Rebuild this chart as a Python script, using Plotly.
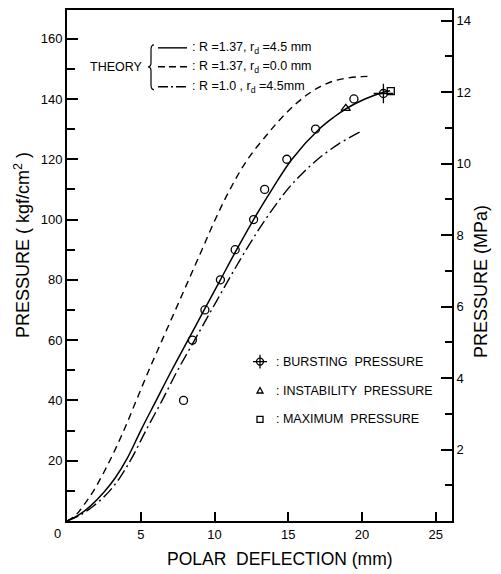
import plotly.graph_objects as go

# ---------------- data ----------------
# theory R=1.37, rd=4.5 mm (solid)
solid_x = [0, 0.8, 1.6, 2.5, 3.3, 4.05, 5.05, 6.05, 7.1, 8.2, 9.3, 10.4, 11.5, 12.65, 13.9, 15.25, 17.1, 18.1, 19.0, 20.2, 21.3, 21.9]
solid_y = [0, 2, 5, 9.5, 14.5, 20.5, 30.5, 40, 50, 60, 70, 80, 90, 100, 110, 120, 130, 134, 137, 140, 142, 142.7]
# theory R=1.37, rd=0.0 mm (dashed)
dash_x = [0, 0.6, 1.1, 1.8, 2.9, 3.85, 4.7, 5.55, 6.45, 7.35, 8.25, 9.15, 10.05, 11.05, 12.25, 13.7, 14.6, 15.5, 16.4, 17.2, 18.1, 19.1, 20.0, 20.6]
dash_y = [0, 2, 5, 10, 20, 30, 40, 50, 60, 70, 80, 90, 100, 110, 120, 129, 134, 138.3, 141.8, 144.2, 146.0, 147.0, 147.4, 147.5]
# theory R=1.0, rd=4.5 mm (dash-dot)
dd_x = [0, 0.9, 1.8, 2.8, 3.6, 4.35, 5.4, 6.45, 7.5, 8.65, 9.8, 10.95, 12.15, 13.45, 14.95, 15.9, 17.0, 18.4, 20.0]
dd_y = [0, 2, 5, 9.5, 14.5, 20.5, 30.5, 40, 50, 60, 70, 80, 90, 100, 110, 115, 120, 125, 129.4]

# experimental (open circles)
exp_x = [7.9, 8.5, 9.35, 10.4, 11.4, 12.65, 13.4, 14.9, 16.85, 19.45]
exp_y = [40, 60, 70, 80, 90, 100, 110, 120, 130, 140]

burst_x = [21.45]
burst_y = [141.8]
inst_x = [18.9]
inst_y = [136.9]
max_x = [21.95]
max_y = [142.6]

x_ticks = [0, 5, 10, 15, 20, 25]
y_ticks = [20, 40, 60, 80, 100, 120, 140, 160]
y2_ticks = [2, 4, 6, 8, 10, 12, 14]

theory_labels = [": R =1.37, r<sub>d</sub> =4.5 mm",
                 ": R =1.37, r<sub>d</sub> =0.0 mm",
                 ": R =1.0 , r<sub>d</sub> =4.5mm"]
marker_labels = [": BURSTING  PRESSURE", ": INSTABILITY  PRESSURE", ": MAXIMUM  PRESSURE"]

# ---------------- layout geometry ----------------
W, H = 501, 574
L, R, T, B = 67, 49, 8, 53
PW = W - L - R
PH = H - T - B


def px(x):
    return (x - L) / PW


def py(y):
    return (H - B - y) / PH


FONT = "Liberation Sans, Arial, sans-serif"

fig = go.Figure()

fig.add_trace(go.Scatter(x=dash_x, y=dash_y, mode="lines", line=dict(color="black", width=1.4, dash="7px,5px", shape="spline", smoothing=1.0), showlegend=False))
fig.add_trace(go.Scatter(x=dd_x, y=dd_y, mode="lines", line=dict(color="black", width=1.4, dash="12px,4px,2px,4px", shape="spline", smoothing=1.0), showlegend=False))
fig.add_trace(go.Scatter(x=solid_x, y=solid_y, mode="lines", line=dict(color="black", width=1.5, shape="spline", smoothing=1.0), showlegend=False))

fig.add_trace(go.Scatter(x=exp_x, y=exp_y, mode="markers",
                         marker=dict(symbol="circle-open", size=8, color="black", line=dict(width=1.3, color="black")),
                         showlegend=False))
fig.add_trace(go.Scatter(x=burst_x, y=burst_y, mode="markers",
                         marker=dict(symbol="circle-open", size=8, color="black", line=dict(width=1.3, color="black")),
                         showlegend=False))
fig.add_trace(go.Scatter(x=burst_x, y=burst_y, mode="markers",
                         marker=dict(symbol="cross-thin-open", size=14, color="black", line=dict(width=1.3, color="black")),
                         showlegend=False))
fig.add_trace(go.Scatter(x=inst_x, y=inst_y, mode="markers",
                         marker=dict(symbol="triangle-up-open", size=8, color="black", line=dict(width=1.3, color="black")),
                         showlegend=False))
fig.add_trace(go.Scatter(x=max_x, y=max_y, mode="markers",
                         marker=dict(symbol="square-open", size=7, color="black", line=dict(width=1.3, color="black")),
                         showlegend=False))
# secondary (MPa) axis anchor trace
fig.add_trace(go.Scatter(x=[], y=[], yaxis="y2", showlegend=False, hoverinfo="skip"))

shapes = []
annotations = []

# ----- theory legend -----
annotations.append(dict(x=px(116), y=py(65), xref="paper", yref="paper", text="THEORY",
                        showarrow=False, font=dict(family=FONT, size=12.5, color="black"),
                        xanchor="center", yanchor="middle"))
# brace
bx = 151
brace = (f"M {px(bx+3)} {py(43)} Q {px(bx)} {py(43)} {px(bx)} {py(48)} "
         f"L {px(bx)} {py(61)} Q {px(bx)} {py(65)} {px(bx-3)} {py(65)} "
         f"Q {px(bx)} {py(65)} {px(bx)} {py(69)} L {px(bx)} {py(83)} "
         f"Q {px(bx)} {py(88)} {px(bx+3)} {py(88)}")
shapes.append(dict(type="path", path=brace, xref="paper", yref="paper", line=dict(color="black", width=1.2)))
leg_y = [46, 65, 85]
leg_dash = ["solid", "7px,4px", "10px,3px,2px,3px"]
for yy, dsh, lab in zip(leg_y, leg_dash, theory_labels):
    shapes.append(dict(type="line", xref="paper", yref="paper", x0=px(158), x1=px(187), y0=py(yy), y1=py(yy),
                       line=dict(color="black", width=1.4, dash=dsh)))
    annotations.append(dict(x=px(190), y=py(yy), xref="paper", yref="paper", text=lab, showarrow=False,
                            font=dict(family=FONT, size=12.5, color="black"), xanchor="left", yanchor="middle"))

# ----- marker legend -----
mk_y = [361, 390, 419]
cx = 260
# bursting: circle with spikes
shapes.append(dict(type="circle", xref="paper", yref="paper", x0=px(cx-3.5), x1=px(cx+3.5), y0=py(mk_y[0]-3.5), y1=py(mk_y[0]+3.5),
                   line=dict(color="black", width=1.3)))
shapes.append(dict(type="line", xref="paper", yref="paper", x0=px(cx-7), x1=px(cx+7), y0=py(mk_y[0]), y1=py(mk_y[0]),
                   line=dict(color="black", width=1.3)))
shapes.append(dict(type="line", xref="paper", yref="paper", x0=px(cx), x1=px(cx), y0=py(mk_y[0]-7), y1=py(mk_y[0]+7),
                   line=dict(color="black", width=1.3)))
# triangle
tpath = f"M {px(cx-3)} {py(mk_y[1]+2.5)} L {px(cx+3)} {py(mk_y[1]+2.5)} L {px(cx)} {py(mk_y[1]-3)} Z"
shapes.append(dict(type="path", path=tpath, xref="paper", yref="paper", line=dict(color="black", width=1.3)))
# square
shapes.append(dict(type="rect", xref="paper", yref="paper", x0=px(cx-3), x1=px(cx+3), y0=py(mk_y[2]-3), y1=py(mk_y[2]+3),
                   line=dict(color="black", width=1.3)))
for yy, lab in zip(mk_y, marker_labels):
    annotations.append(dict(x=px(274), y=py(yy), xref="paper", yref="paper", text=lab, showarrow=False,
                            font=dict(family=FONT, size=12.5, color="black"), xanchor="left", yanchor="middle"))

# ----- axis titles -----
annotations.append(dict(x=px(280), y=py(559), xref="paper", yref="paper",
                        text="POLAR\u00a0\u00a0DEFLECTION (mm)", showarrow=False,
                        font=dict(family=FONT, size=17.5, color="black"), xanchor="center", yanchor="middle"))
annotations.append(dict(x=px(22), y=py(244), xref="paper", yref="paper",
                        text="PRESSURE ( kgf/cm<sup>2</sup> )", showarrow=False, textangle=-90,
                        font=dict(family=FONT, size=18, color="black"), xanchor="center", yanchor="middle"))
annotations.append(dict(x=px(481), y=py(280), xref="paper", yref="paper",
                        text="PRESSURE (MPa)", showarrow=False, textangle=-90,
                        font=dict(family=FONT, size=18, color="black"), xanchor="center", yanchor="middle"))
# origin label
annotations.append(dict(x=px(57), y=py(534), xref="paper", yref="paper", text="0", showarrow=False,
                        font=dict(family=FONT, size=13, color="black"), xanchor="center", yanchor="middle"))

fig.update_layout(
    width=W, height=H,
    margin=dict(l=L, r=R, t=T, b=B, pad=0),
    plot_bgcolor="white", paper_bgcolor="white",
    showlegend=False,
    font=dict(family=FONT, size=13, color="black"),
    xaxis=dict(range=[0, 26.1], tickvals=x_ticks, ticktext=[""] + [str(v) for v in x_ticks[1:]],
               ticks="inside", ticklen=9, tickwidth=1.5, tickcolor="black",
               showline=True, linecolor="black", linewidth=2, mirror=True,
               showgrid=False, zeroline=False, tickfont=dict(family=FONT, size=13)),
    yaxis=dict(range=[0, 169.5], tickvals=y_ticks, ticks="inside", ticklen=11, tickwidth=1.5, tickcolor="black",
               minor=dict(tickvals=[10, 30, 50, 70, 90, 110, 130, 150], ticks="inside", ticklen=8, tickwidth=1.5, tickcolor="black"),
               showline=True, linecolor="black", linewidth=2,
               showgrid=False, zeroline=False, tickfont=dict(family=FONT, size=13)),
    yaxis2=dict(range=[0, 14.3], overlaying="y", side="right", anchor="x", tickvals=y2_ticks,
                ticks="inside", ticklen=11, tickwidth=1.5, tickcolor="black",
                minor=dict(tickvals=[1, 3, 5, 7, 9, 11, 13], ticks="inside", ticklen=7, tickwidth=1.5, tickcolor="black"),
                showline=True, linecolor="black", linewidth=2,
                showgrid=False, zeroline=False, tickfont=dict(family=FONT, size=13)),
    shapes=shapes,
    annotations=annotations,
)

fig.write_html("out.html")
